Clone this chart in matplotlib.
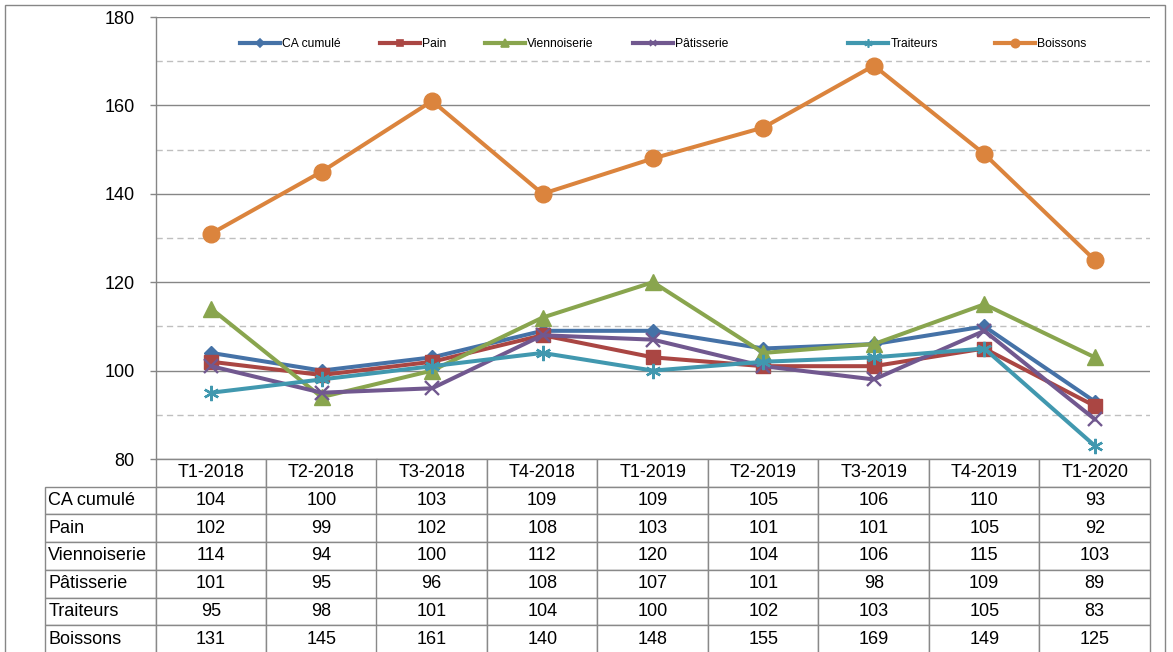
import matplotlib
matplotlib.use('Agg')
import matplotlib.pyplot as plt
from matplotlib.lines import Line2D
from matplotlib.patches import Rectangle
from matplotlib.table import Table
from matplotlib.legend import Legend

plt.rcParams['font.family'] = ['Liberation Sans', 'DejaVu Sans']

# ---------------- data ----------------
quarters = ['T1-2018', 'T2-2018', 'T3-2018', 'T4-2018', 'T1-2019',
            'T2-2019', 'T3-2019', 'T4-2019', 'T1-2020']
series_names = ['CA cumulé', 'Pain', 'Viennoiserie', 'Pâtisserie', 'Traiteurs', 'Boissons']
ca_cumule = [104, 100, 103, 109, 109, 105, 106, 110, 93]
pain = [102, 99, 102, 108, 103, 101, 101, 105, 92]
viennoiserie = [114, 94, 100, 112, 120, 104, 106, 115, 103]
patisserie = [101, 95, 96, 108, 107, 101, 98, 109, 89]
traiteurs = [95, 98, 101, 104, 100, 102, 103, 105, 83]
boissons = [131, 145, 161, 140, 148, 155, 169, 149, 125]
series_values = [ca_cumule, pain, viennoiserie, patisserie, traiteurs, boissons]

# ---------------- styles ----------------
colors = ['#4572A7', '#AA4643', '#89A54E', '#71588F', '#4198AF', '#DB843D']
markers = ['D', 's', '^', 'x', (6, 2, 0), 'o']
msizes = [7.5, 10, 12, 9.5, 11, 12]
leg_msizes = [4, 5, 6, 5, 6, 6]
leg_px = [240, 380, 485, 633, 848, 995]

W, H = 1173, 652
ax_l, ax_r, ax_t, ax_b = 156, 1150, 17, 459
grid_c = '#868686'

fig = plt.figure(figsize=(W / 100, H / 100), dpi=100)
ax = fig.add_axes([ax_l / W, 1 - ax_b / H, (ax_r - ax_l) / W, (ax_b - ax_t) / H])

x = list(range(len(quarters)))
for vals, c, m, ms in zip(series_values, colors, markers, msizes):
    mew = 1.7 if m in ('x', (6, 2, 0)) else 1
    ax.plot(x, vals, color=c, lw=2.9, marker=m, ms=ms, mfc=c, mec=c, mew=mew,
            zorder=3, solid_joinstyle='round')

ax.set_xlim(-0.5, len(quarters) - 0.5)
ax.set_ylim(80, 180)
ax.set_yticks(range(80, 181, 20))
ax.set_yticks(range(90, 180, 20), minor=True)
ax.set_xticks([])
ax.yaxis.grid(True, which='major', color=grid_c, lw=1, zorder=0)
ax.yaxis.grid(True, which='minor', color='#BFBFBF', lw=1, ls=(0, (4.5, 3)), zorder=0)
ax.tick_params(axis='y', which='major', length=4, width=1, color=grid_c,
               pad=11.5, labelsize=13, labelcolor='black')
ax.tick_params(axis='y', which='minor', length=0)
for s in ('top', 'right', 'bottom'):
    ax.spines[s].set_visible(False)
ax.spines['left'].set_color(grid_c)
ax.spines['left'].set_linewidth(1)
ax.set_axisbelow(True)

# ---------------- legend ----------------
aw = ax_r - ax_l
ah = ax_b - ax_t
for name, c, m, lms, px in zip(series_names, colors, markers, leg_msizes, leg_px):
    h = Line2D([], [], color=c, lw=3, marker=m, ms=lms, mfc=c, mec=c, mew=1.2)
    leg = Legend(ax, [h], [name], loc='center left',
                 bbox_to_anchor=((px - ax_l) / aw, (ax_b - 44) / ah),
                 frameon=False, borderpad=0, borderaxespad=0,
                 handlelength=3.3, handletextpad=0.2, fontsize=8.7)
    ax.add_artist(leg)

# ---------------- data table ----------------
row_h = 27.7
n_rows = len(series_names) + 1
tbl_left = 45
tbl = Table(ax, bbox=[(tbl_left - ax_l) / aw, -(row_h * n_rows) / ah,
                      (ax_r - tbl_left) / aw, (row_h * n_rows) / ah])
edge_c = '#898989'
for j, q in enumerate(quarters):
    tbl.add_cell(0, j + 1, width=1, height=1, text=q, loc='center',
                 edgecolor=edge_c, facecolor='white')
for i, (name, vals) in enumerate(zip(series_names, series_values)):
    cell = tbl.add_cell(i + 1, 0, width=1, height=1, text=name, loc='left',
                        edgecolor=edge_c, facecolor='white')
    cell.PAD = 0.03
    for j, v in enumerate(vals):
        tbl.add_cell(i + 1, j + 1, width=1, height=1, text=str(v), loc='center',
                     edgecolor=edge_c, facecolor='white')
tbl.auto_set_font_size(False)
tbl.set_fontsize(13)
for cell in tbl.get_celld().values():
    cell.set_linewidth(1)
tbl.set_clip_on(False)
ax.add_table(tbl)

# ---------------- outer border ----------------
fig.patches.append(Rectangle((5 / W, -0.02), (1165 - 5) / W, 1 - 5 / H + 0.02,
                             transform=fig.transFigure, fill=False,
                             edgecolor=grid_c, lw=1))

fig.savefig('out.png', dpi=100)
